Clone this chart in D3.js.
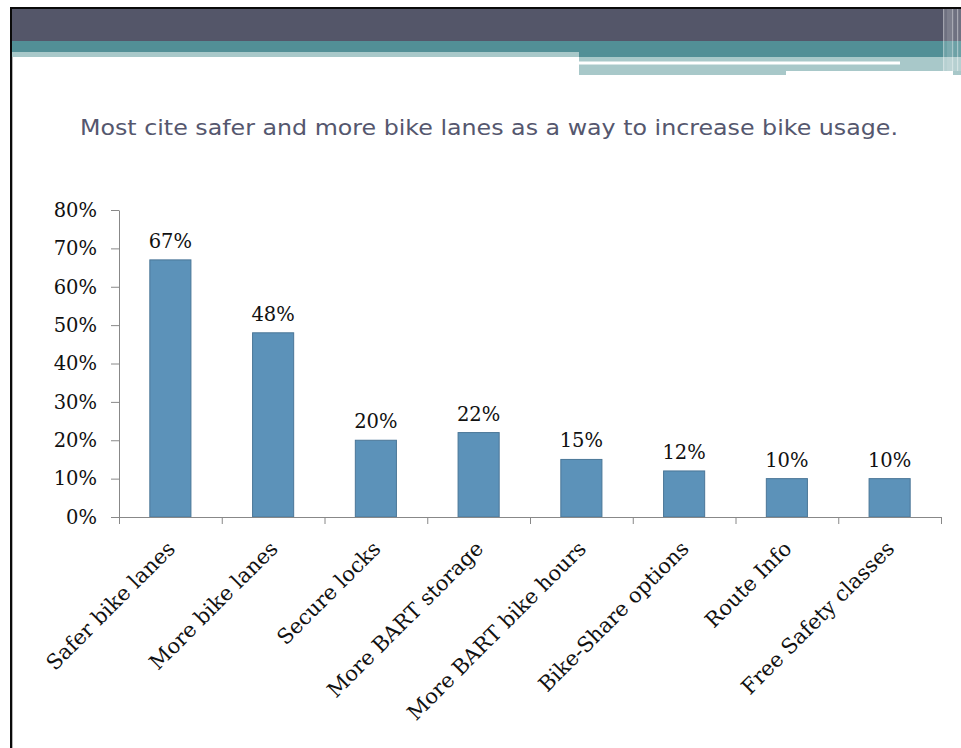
<!DOCTYPE html>
<html>
<head>
<meta charset="utf-8">
<script src="https://cdn.jsdelivr.net/npm/d3@7"></script>
<style>
  html, body { margin: 0; padding: 0; background: #ffffff; }
  svg { display: block; }
</style>
</head>
<body>
<svg id="chart" width="961" height="748"></svg>
<script>
// Survey answers: what would make people bike more
const categories = [
  "Safer bike lanes",
  "More bike lanes",
  "Secure locks",
  "More BART storage",
  "More BART bike hours",
  "Bike-Share options",
  "Route Info",
  "Free Safety classes"
];
const shares = [67, 48, 20, 22, 15, 12, 10, 10];
const yTicks = [0, 10, 20, 30, 40, 50, 60, 70, 80];
const titleText = "Most cite safer and more bike lanes as a way to increase bike usage.";

const svg = d3.select("#chart");
const W = 961, H = 748;

// ---- slide frame and header bands ----
const frame = svg.append("g");
frame.append("rect").attr("x", 0).attr("y", 0).attr("width", W).attr("height", H).attr("fill", "#ffffff");
// black frame edges (top and left)
frame.append("rect").attr("x", 10).attr("y", 7).attr("width", W - 10).attr("height", 2.3).attr("fill", "#0a0a0a");
frame.append("rect").attr("x", 10).attr("y", 7).attr("width", 2.3).attr("height", H - 7).attr("fill", "#0a0a0a");
// dark slate band
frame.append("rect").attr("x", 12).attr("y", 9).attr("width", W - 12).attr("height", 32).attr("fill", "#545669");
// teal band
frame.append("rect").attr("x", 12).attr("y", 41).attr("width", W - 12).attr("height", 11).attr("fill", "#528f96");
frame.append("rect").attr("x", 579).attr("y", 52).attr("width", W - 579).attr("height", 5).attr("fill", "#528f96");
// pale teal strips
frame.append("rect").attr("x", 12).attr("y", 52).attr("width", 567).attr("height", 5).attr("fill", "#a8c8c9");
frame.append("rect").attr("x", 579).attr("y", 57).attr("width", W - 579).attr("height", 18).attr("fill", "#a8c8c9");
frame.append("rect").attr("x", 579).attr("y", 61.5).attr("width", 321).attr("height", 3).attr("fill", "#ffffff");
frame.append("rect").attr("x", 786).attr("y", 71).attr("width", 167).attr("height", 4).attr("fill", "#ffffff");
// vertical light stripes at the right end of the header
frame.append("rect").attr("x", 943).attr("y", 9).attr("width", 18).attr("height", 62).attr("fill", "#ffffff").attr("opacity", 0.16);
[[943, 1.2, 0.35], [947, 5, 0.1], [952, 1.2, 0.4], [957, 1.2, 0.4]].forEach(s => {
  frame.append("rect").attr("x", s[0]).attr("y", 9).attr("width", s[1]).attr("height", 62)
    .attr("fill", "#ffffff").attr("opacity", s[2]);
});

// ---- title ----
svg.append("text")
  .attr("x", 80).attr("y", 135)
  .attr("textLength", 818).attr("lengthAdjust", "spacingAndGlyphs")
  .style("font-family", "'DejaVu Sans', Verdana, sans-serif")
  .style("font-size", "22px")
  .style("fill", "#55576e")
  .text(titleText);

// ---- chart ----
const plotLeft = 119, plotRight = 941, plotTop = 210, plotBottom = 517;
const serif = "'DejaVu Serif', Georgia, serif";

const x = d3.scaleBand().domain(categories).range([plotLeft, plotRight])
  .paddingInner(0.6).paddingOuter(0.3);
const y = d3.scaleLinear().domain([0, 80]).range([plotBottom, plotTop]);
const edges = d3.scaleLinear().domain([0, categories.length]).range([plotLeft, plotRight]);

// y axis
const yAxis = svg.append("g")
  .attr("transform", `translate(${plotLeft},0)`)
  .call(d3.axisLeft(y).tickValues(yTicks).tickFormat(d => d + "%")
    .tickSize(8).tickSizeOuter(0).tickPadding(14));
yAxis.select(".domain").attr("stroke", "#888888");
yAxis.selectAll(".tick line").attr("stroke", "#888888");
yAxis.selectAll(".tick text")
  .style("font-family", serif).style("font-size", "19.5px").attr("fill", "#111111");

// bars
svg.append("g").selectAll("rect")
  .data(shares)
  .join("rect")
  .attr("x", (d, i) => x(categories[i]))
  .attr("y", d => y(d))
  .attr("width", x.bandwidth())
  .attr("height", d => y(0) - y(d))
  .attr("fill", "#5c92b9")
  .attr("stroke", "#4a7697")
  .attr("stroke-width", 1);

// x axis with ticks on category boundaries
const xAxis = svg.append("g")
  .attr("transform", `translate(0,${plotBottom})`)
  .call(d3.axisBottom(edges).tickValues(d3.range(categories.length + 1))
    .tickFormat("").tickSize(7).tickSizeOuter(0));
xAxis.select(".domain").attr("stroke", "#888888");
xAxis.selectAll(".tick line").attr("stroke", "#888888");

// value labels
svg.append("g").selectAll("text")
  .data(shares)
  .join("text")
  .attr("x", (d, i) => x(categories[i]) + x.bandwidth() / 2)
  .attr("y", d => y(d) - 12)
  .attr("text-anchor", "middle")
  .style("font-family", serif).style("font-size", "19.5px")
  .attr("fill", "#111111")
  .text(d => d + "%");

// rotated category labels
svg.append("g").selectAll("text")
  .data(categories)
  .join("text")
  .attr("transform", d => `translate(${x(d) + x.bandwidth() / 2 + 6},${plotBottom + 33}) rotate(-45)`)
  .attr("text-anchor", "end")
  .style("font-family", serif).style("font-size", "21px")
  .attr("fill", "#111111")
  .text(d => d);
</script>
</body>
</html>
